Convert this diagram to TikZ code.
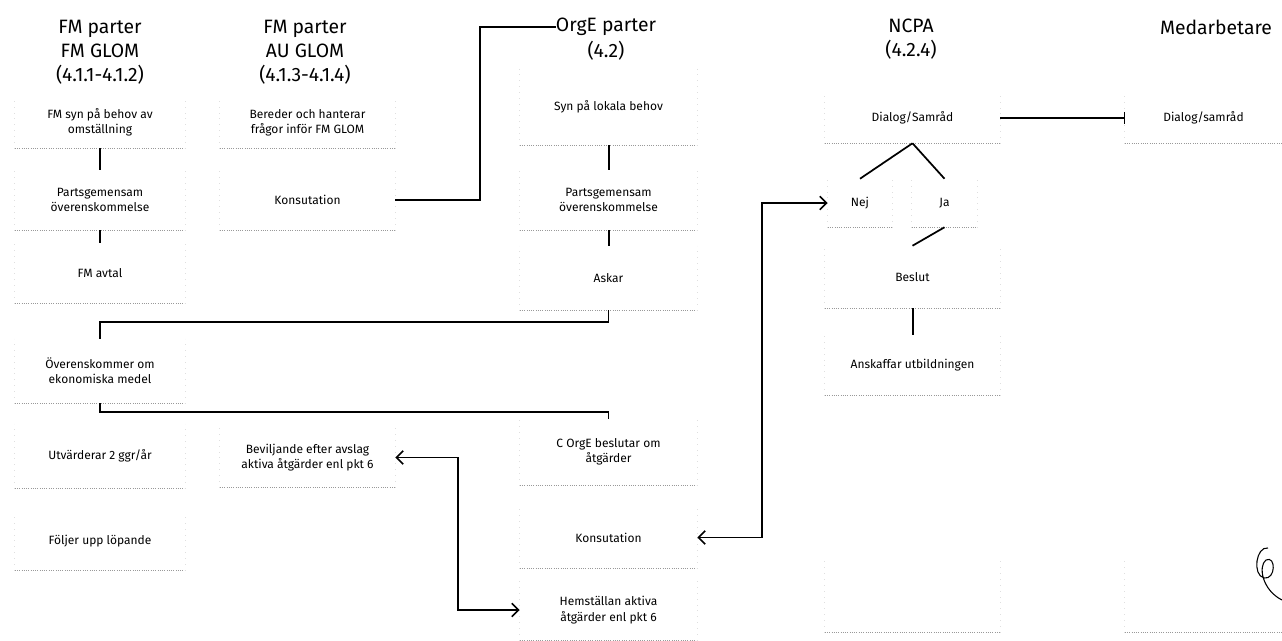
\documentclass[tikz,border=0pt]{standalone}
\usepackage{fontspec}
\setmainfont{Fira Sans}
\usetikzlibrary{arrows.meta,calc}
\tikzset{
  bx/.style={inner sep=0pt, align=center, font=\fontsize{9}{11.5}\selectfont},
  bxbot/.style={draw=gray!80, densely dotted, line width=0.7pt},
  bxside/.style={draw=gray!25, loosely dotted, line width=0.4pt},
  hd/.style={inner sep=0pt, align=center, font=\fontsize{14.5}{18}\selectfont},
  conn/.style={line width=1.5pt},
  link/.style={line width=1.3pt},
  tip/.style={{Straight Barb[length=5pt,width=10pt,line width=1.3pt]}-{Straight Barb[length=5pt,width=10pt,line width=1.3pt]}}
}
\newcommand\mkbox[6]{%
  \node[bx, minimum width={(#4-#2)*0.75pt}, minimum height={(#5-#3)*0.75pt}] (#1) at ({(#2+#4)/2},{(#3+#5)/2}) {#6};
  \draw[bxbot] (#1.south west) -- (#1.south east);
  \draw[bxside] (#1.south west) -- (#1.north west) (#1.south east) -- (#1.north east);}
\begin{document}
\begin{tikzpicture}[x=0.75pt,y=-0.75pt]
\useasboundingbox (0,0) rectangle (1282,641);
% headers
\node[hd] (h1) at (100,52) {FM parter\\FM GLOM\\(4.1.1-4.1.2)};
\node[hd] (h2) at (305,52) {FM parter\\AU GLOM\\(4.1.3-4.1.4)};
\node[hd] (h3a) at (606,27) {OrgE parter};
\node[hd] (h3b) at (606,51) {(4.2)};
\node[hd] (h4) at (911,39) {NCPA\\(4.2.4)};
\node[hd] (h5) at (1216,27) {Medarbetare};
% column 1
\mkbox{b11}{15}{96}{185}{148}{FM syn på behov av\\omställning}
\mkbox{b12}{15}{170}{185}{230}{Partsgemensam\\överenskommelse}
\mkbox{b13}{15}{243}{185}{303}{FM avtal}
\mkbox{b14}{15}{339}{185}{403}{Överenskommer om\\ekonomiska medel}
\mkbox{b15}{15}{424}{185}{488}{Utvärderar 2 ggr/år}
\mkbox{b16}{15}{512}{185}{570}{Följer upp löpande}
% column 2
\mkbox{b21}{220}{98}{395}{148}{Bereder och hanterar\\frågor inför FM GLOM}
\mkbox{b22}{220}{170}{395}{230}{Konsutation}
\mkbox{b23}{220}{428}{395}{487}{Beviljande efter avslag\\aktiva åtgärder enl pkt 6}
% column 3
\mkbox{b31}{520}{69}{697}{145}{Syn på lokala behov}
\mkbox{b32}{520}{170}{697}{230}{Partsgemensam\\överenskommelse}
\mkbox{b33}{520}{246}{697}{310}{Askar}
\mkbox{b34}{520}{419}{697}{485}{C OrgE beslutar om\\åtgärder}
\mkbox{b35}{520}{507}{697}{568}{Konsutation}
\mkbox{b36}{520}{580}{697}{640}{Hemställan aktiva\\åtgärder enl pkt 6}
% column 4
\mkbox{b41}{825}{93}{1000}{143}{Dialog/Samråd}
\mkbox{nej}{828}{179}{892}{227}{Nej}
\mkbox{ja}{912}{179}{977}{227}{Ja}
\mkbox{b42}{825}{246}{1000}{308}{Beslut}
\mkbox{b43}{825}{335}{1000}{395}{Anskaffar utbildningen}
\mkbox{b44}{825}{560}{1000}{632}{}
% column 5
\mkbox{b51}{1125}{93}{1282}{143}{Dialog/samråd}
\mkbox{b52}{1125}{560}{1282}{632}{}
% vertical connectors
\draw[conn] (b11.south) -- (b12.north);
\draw[conn] (b12.south) -- (b13.north);
\draw[conn] (b31.south) -- (b32.north);
\draw[conn] (b32.south) -- (b33.north);
\draw[conn] (b42.south) -- (b43.north);
% NCPA branching
\draw[link] (b41.south) -- (nej.north);
\draw[link] (b41.south) -- (ja.north);
\draw[link] (ja.south) -- (b42.north);
% elbow connectors
\draw[link] (b22.east) -- ++(85,0) |- (h3a.west);
\draw[link] (b33.south) -- ++(0,12) -| (b14.north);
\draw[link] (b14.south) -- ++(0,9) -| (b34.north);
\draw[link,tip] (b23.east) -- ++(63,0) |- (b36.west);
\draw[link,tip] (b35.east) -- ++(65,0) |- (nej.west);
\draw[link,-{Bar[width=9pt,line width=0.8pt]}] (b41.east) -- (b51.west);
% handwritten mark
\draw[line width=0.8pt] (1268,548) .. controls (1256,546) and (1252,575) .. (1264,578)
  .. controls (1276,580) and (1276,555) .. (1266,560)
  .. controls (1258,566) and (1262,590) .. (1282,600);
\end{tikzpicture}
\end{document}
